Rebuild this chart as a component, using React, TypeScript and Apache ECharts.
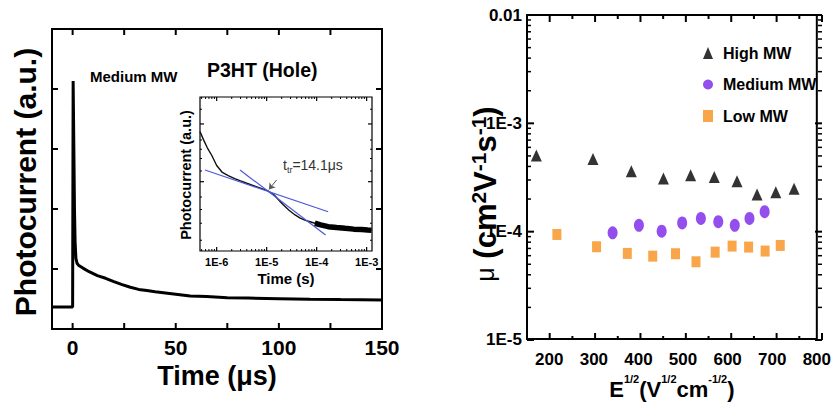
import React, { useEffect, useRef } from "react";
import * as echarts from "echarts";

const FONT = '"Liberation Sans", Arial, sans-serif';

// ---- Left panel: transient photocurrent (Medium MW) ----
const mainTime = [-10, 0, 0.25, 0.6, 0.9, 1.2, 1.6, 2.2, 3, 5, 8, 12, 16, 20, 24, 28, 32, 36, 40, 45, 50, 57, 65, 75, 85, 100, 115, 130, 150];
const mainSignal = [0.073, 0.073, 0.827, 0.6, 0.4, 0.29, 0.235, 0.218, 0.212, 0.203, 0.191, 0.178, 0.169, 0.158, 0.148, 0.139, 0.132, 0.128, 0.124, 0.12, 0.116, 0.11, 0.108, 0.104, 0.103, 0.101, 0.099, 0.098, 0.097];
const mainXRange = [-10, 150];
const mainYRange = [0, 1];
const mainXTicks = [0, 25, 50, 75, 100, 125, 150];
const mainXLabels = [0, 50, 100, 150];
const mainYTicks = [0.2, 0.4, 0.6, 0.8];

// ---- Inset: log-log transient ----
const insetTime = [4.64e-7, 5.5e-7, 6.5e-7, 8e-7, 1e-6, 1.3e-6, 1.7e-6, 2.3e-6, 3e-6, 4e-6, 6e-6, 8e-6, 1.06e-5, 1.4e-5, 2e-5, 2.8e-5, 3.7e-5, 4.6e-5, 5.8e-5, 7.4e-5, 9.2e-5, 1.2e-4, 1.7e-4, 2.5e-4, 3.7e-4, 5.5e-4, 8e-4, 1.05e-3, 1.25e-3];
const insetSignal = [0.775, 0.72, 0.67, 0.62, 0.555, 0.51, 0.49, 0.47, 0.455, 0.44, 0.42, 0.405, 0.39, 0.365, 0.31, 0.265, 0.234, 0.215, 0.2, 0.19, 0.18, 0.17, 0.158, 0.152, 0.147, 0.142, 0.139, 0.136, 0.135];
const fitShallowTime = [5.84e-7, 1.7e-4];
const fitShallowSignal = [0.526, 0.255];
const fitSteepTime = [2.93e-6, 1.51e-4];
const fitSteepSignal = [0.526, 0.104];
const insetXRange = [4.64e-7, 1.28e-3];
const insetYRange = [0, 1];
const insetXMajor = [1e-6, 1e-5, 1e-4, 1e-3];
const insetXMinor = [5e-7, 6e-7, 7e-7, 8e-7, 9e-7, 2e-6, 3e-6, 4e-6, 5e-6, 6e-6, 7e-6, 8e-6, 9e-6, 2e-5, 3e-5, 4e-5, 5e-5, 6e-5, 7e-5, 8e-5, 9e-5, 2e-4, 3e-4, 4e-4, 5e-4, 6e-4, 7e-4, 8e-4, 9e-4];
const insetYMajor = [0.45, 0.825];
const insetYMinor = [0.07, 0.18, 0.27, 0.35, 0.52, 0.6, 0.66, 0.72, 0.92];

// ---- Right panel: mobility vs E^1/2 ----
const fieldHigh = [171, 298, 384, 456, 517, 570, 621, 666, 708, 749];
const muHigh = [5.0e-4, 4.65e-4, 3.57e-4, 3.06e-4, 3.28e-4, 3.17e-4, 2.89e-4, 2.18e-4, 2.29e-4, 2.47e-4];
const fieldMedium = [342, 401, 452, 498, 540, 579, 616, 649, 683];
const muMedium = [9.64e-5, 1.13e-4, 9.98e-5, 1.19e-4, 1.31e-4, 1.22e-4, 1.13e-4, 1.31e-4, 1.51e-4];
const fieldLow = [217, 306, 375, 432, 483, 529, 572, 610, 647, 684, 718];
const muLow = [9.3e-5, 7.16e-5, 6.21e-5, 5.86e-5, 6.17e-5, 5.2e-5, 6.38e-5, 7.26e-5, 7.11e-5, 6.53e-5, 7.36e-5];
const rightXRange = [150, 800];
const rightYRange = [1e-5, 1e-2];
const rightXMajor = [200, 300, 400, 500, 600, 700, 800];
const rightXMinor = [250, 350, 450, 550, 650, 750];
const rightYMajor = [1e-5, 1e-4, 1e-3, 1e-2];
const rightYMinor = [2e-5, 3e-5, 4e-5, 5e-5, 6e-5, 7e-5, 8e-5, 9e-5, 2e-4, 3e-4, 4e-4, 5e-4, 6e-4, 7e-4, 8e-4, 9e-4, 2e-3, 3e-3, 4e-3, 5e-3, 6e-3, 7e-3, 8e-3, 9e-3];
const rightYLabels: Record<string, string> = { "-5": "1E-5", "-4": "1E-4", "-3": "1E-3", "-2": "0.01" };

const zip = (a: number[], b: number[]) => a.map((v, i) => [v, b[i]]);

// layout (pixels)
const GRID_MAIN = { left: 52, top: 29, width: 330, height: 300 };
const GRID_INSET = { left: 200, top: 97, width: 172, height: 154 };
const GRID_RIGHT = { left: 527, top: 15, width: 295, height: 325 };

type Box = { left: number; top: number; width: number; height: number };
const lin = (v: number, r: number[]) => (v - r[0]) / (r[1] - r[0]);
const lg = (v: number, r: number[]) => (Math.log10(v) - Math.log10(r[0])) / (Math.log10(r[1]) - Math.log10(r[0]));

function tickRects(box: Box, axis: "x" | "y", frac: (v: number) => number, vals: number[], len: number, w: number) {
  const out: any[] = [];
  vals.forEach((v) => {
    const f = frac(v);
    if (axis === "x") {
      const x = box.left + f * box.width;
      out.push({ type: "rect", z: 50, silent: true, shape: { x: x - w / 2, y: box.top + box.height - len, width: w, height: len }, style: { fill: "#000" } });
      out.push({ type: "rect", z: 50, silent: true, shape: { x: x - w / 2, y: box.top, width: w, height: len }, style: { fill: "#000" } });
    } else {
      const y = box.top + box.height - f * box.height;
      out.push({ type: "rect", z: 50, silent: true, shape: { x: box.left, y: y - w / 2, width: len, height: w }, style: { fill: "#000" } });
      out.push({ type: "rect", z: 50, silent: true, shape: { x: box.left + box.width - len, y: y - w / 2, width: len, height: w }, style: { fill: "#000" } });
    }
  });
  return out;
}

export default function App() {
  const ref = useRef<HTMLDivElement>(null);
  useEffect(() => {
    if (!ref.current) return;
    const chart = echarts.init(ref.current, undefined, { renderer: "svg" });

    const ticks = [
      ...tickRects(GRID_MAIN, "x", (v) => lin(v, mainXRange), mainXTicks, 6, 2),
      ...tickRects(GRID_MAIN, "y", (v) => lin(v, mainYRange), mainYTicks, 6, 2),
      ...tickRects(GRID_INSET, "x", (v) => lg(v, insetXRange), insetXMajor, 4, 1.2),
      ...tickRects(GRID_INSET, "x", (v) => lg(v, insetXRange), insetXMinor, 2, 1),
      ...tickRects(GRID_INSET, "y", (v) => lin(v, insetYRange), insetYMajor, 4, 1.2),
      ...tickRects(GRID_INSET, "y", (v) => lin(v, insetYRange), insetYMinor, 2, 1),
      ...tickRects(GRID_RIGHT, "x", (v) => lin(v, rightXRange), rightXMajor, 7, 2),
      ...tickRects(GRID_RIGHT, "x", (v) => lin(v, rightXRange), rightXMinor, 4, 2),
      ...tickRects(GRID_RIGHT, "y", (v) => lg(v, rightYRange), rightYMajor, 7, 2),
      ...tickRects(GRID_RIGHT, "y", (v) => lg(v, rightYRange), rightYMinor, 4, 1.5),
    ];

    const texts = [
      { type: "text", z: 50, left: 90, top: 69, style: { text: "Medium MW", font: `bold 15px ${FONT}`, fill: "#000" } },
      { type: "text", z: 50, left: 207, top: 60, style: { text: "P3HT (Hole)", font: `bold 19.5px ${FONT}`, fill: "#000" } },
      {
        type: "text", z: 50, left: 283, top: 158,
        style: {
          text: "{a|t}{b|tr}{a|=14.1μs}", fill: "#333",
          rich: {
            a: { fontSize: 14, fontFamily: FONT, fill: "#333", lineHeight: 18 },
            b: { fontSize: 9, fontFamily: FONT, fill: "#333", lineHeight: 9, verticalAlign: "bottom" },
          },
        },
      },
      {
        type: "text", z: 50, x: 25, y: 182, rotation: Math.PI / 2,
        style: { text: "Photocurrent (a.u.)", font: `bold 30px ${FONT}`, fill: "#000", align: "center", verticalAlign: "middle" },
      },
      {
        type: "text", z: 50, x: 186, y: 175, rotation: Math.PI / 2,
        style: { text: "Photocurrent (a.u.)", font: `bold 14.5px ${FONT}`, fill: "#000", align: "center", verticalAlign: "middle" },
      },
      {
        type: "text", z: 50, x: 485, y: 194, rotation: Math.PI / 2,
        style: {
          text: "{m|μ}{n| (cm}{s|2}{n|V}{s|-1}{n|s}{s|-1}{n|)}", fill: "#000", align: "center", verticalAlign: "middle",
          rich: {
            m: { fontSize: 25, fontFamily: FONT, fill: "#000", lineHeight: 34 },
            n: { fontSize: 31, fontWeight: "bold", fontFamily: FONT, fill: "#000", lineHeight: 34 },
            s: { fontSize: 21, fontWeight: "bold", fontFamily: FONT, fill: "#000", lineHeight: 20, verticalAlign: "top" },
          },
        },
      },
    ];

    const option: any = {
      animation: false,
      backgroundColor: "#fff",
      textStyle: { fontFamily: FONT },
      grid: [
        { ...GRID_MAIN, show: true, borderColor: "#000", borderWidth: 2, backgroundColor: "transparent" },
        { ...GRID_INSET, show: true, borderColor: "#000", borderWidth: 1.2, backgroundColor: "transparent" },
        { ...GRID_RIGHT, show: true, borderColor: "#000", borderWidth: 2, backgroundColor: "transparent" },
      ],
      xAxis: [
        {
          type: "value", gridIndex: 0, min: mainXRange[0], max: mainXRange[1],
          axisLine: { show: false }, axisTick: { show: false }, splitLine: { show: false },
          axisLabel: { customValues: mainXLabels, fontSize: 21, fontWeight: "bold", color: "#000", margin: 8, fontFamily: FONT },
          name: "Time (μs)", nameLocation: "middle", nameGap: 32,
          nameTextStyle: { fontSize: 27, fontWeight: "bold", color: "#000", fontFamily: FONT },
        },
        {
          type: "log", logBase: 10, gridIndex: 1, min: insetXRange[0], max: insetXRange[1],
          axisLine: { show: false }, axisTick: { show: false }, splitLine: { show: false },
          axisLabel: { customValues: insetXMajor, fontSize: 11, fontWeight: "bold", color: "#000", margin: 5, fontFamily: FONT,
            formatter: (v: number) => "1E" + Math.round(Math.log10(v)) },
          name: "Time (s)", nameLocation: "middle", nameGap: 20,
          nameTextStyle: { fontSize: 15, fontWeight: "bold", color: "#000", fontFamily: FONT },
        },
        {
          type: "value", gridIndex: 2, min: rightXRange[0], max: rightXRange[1],
          axisLine: { show: false }, axisTick: { show: false }, splitLine: { show: false },
          axisLabel: { customValues: rightXMajor, fontSize: 17, fontWeight: "bold", color: "#000", margin: 12, fontFamily: FONT },
          name: "{n|E}{s|1/2}{n|(V}{s|1/2}{n|cm}{s|-1/2}{n|)}", nameLocation: "middle", nameGap: 31,
          nameTextStyle: {
            color: "#000", fontFamily: FONT,
            rich: {
              n: { fontSize: 22, fontWeight: "bold", lineHeight: 32, fontFamily: FONT, color: "#000" },
              s: { fontSize: 11, fontWeight: "bold", lineHeight: 13, verticalAlign: "top", fontFamily: FONT, color: "#000" },
            },
          },
        },
      ],
      yAxis: [
        {
          type: "value", gridIndex: 0, min: mainYRange[0], max: mainYRange[1],
          axisLine: { show: false }, axisTick: { show: false }, splitLine: { show: false }, axisLabel: { show: false },
        },
        {
          type: "value", gridIndex: 1, min: insetYRange[0], max: insetYRange[1],
          axisLine: { show: false }, axisTick: { show: false }, splitLine: { show: false }, axisLabel: { show: false },
        },
        {
          type: "log", logBase: 10, gridIndex: 2, min: rightYRange[0], max: rightYRange[1],
          axisLine: { show: false }, axisTick: { show: false }, splitLine: { show: false },
          axisLabel: { customValues: rightYMajor, fontSize: 17, fontWeight: "bold", color: "#000", margin: 5, fontFamily: FONT,
            formatter: (v: number) => rightYLabels[String(Math.round(Math.log10(v)))] ?? "" },
        },
      ],
      legend: {
        left: 703, top: 45, orient: "vertical", itemGap: 15.5, itemWidth: 10, itemHeight: 12, padding: 0,
        textStyle: { fontSize: 16, fontWeight: "bold", color: "#000", fontFamily: FONT, padding: [0, 0, 0, 5] },
        data: [
          { name: "High MW", icon: "triangle" },
          { name: "Medium MW", icon: "circle" },
          { name: "Low MW", icon: "rect" },
        ],
      },
      graphic: { elements: [...ticks, ...texts] },
      series: [
        {
          type: "line", name: "trace", xAxisIndex: 0, yAxisIndex: 0, showSymbol: false, symbol: "none",
          data: zip(mainTime, mainSignal), lineStyle: { color: "#000", width: 3 }, z: 3,
        },
        {
          type: "line", name: "inset", xAxisIndex: 1, yAxisIndex: 1, showSymbol: false, symbol: "none",
          data: zip(insetTime, insetSignal), lineStyle: { color: "#111", width: 1.4 }, z: 7,
          markLine: {
            silent: true, symbol: ["none", "arrow"], symbolSize: 6,
            lineStyle: { color: "#555", width: 1, type: "solid" }, label: { show: false },
            data: [[{ coord: [1.58e-5, 0.461] }, { coord: [1.11e-5, 0.4] }]],
          },
        },
        {
          type: "line", name: "insetTail", xAxisIndex: 1, yAxisIndex: 1, showSymbol: false, symbol: "none",
          data: zip(insetTime, insetSignal).filter((p) => p[0] >= 9e-5), lineStyle: { color: "#000", width: 5.5 }, z: 7,
        },
        {
          type: "line", name: "fit1", xAxisIndex: 1, yAxisIndex: 1, showSymbol: false, symbol: "none",
          data: zip(fitShallowTime, fitShallowSignal), lineStyle: { color: "#4a5ad8", width: 1.2 }, z: 8,
        },
        {
          type: "line", name: "fit2", xAxisIndex: 1, yAxisIndex: 1, showSymbol: false, symbol: "none",
          data: zip(fitSteepTime, fitSteepSignal), lineStyle: { color: "#4a5ad8", width: 1.2 }, z: 8,
        },
        {
          type: "scatter", name: "High MW", xAxisIndex: 2, yAxisIndex: 2, symbol: "triangle", symbolSize: [11, 12],
          itemStyle: { color: "#000" }, data: zip(fieldHigh, muHigh),
        },
        {
          type: "scatter", name: "Medium MW", xAxisIndex: 2, yAxisIndex: 2, symbol: "circle", symbolSize: [10, 13],
          itemStyle: { color: "#7b22ea" }, data: zip(fieldMedium, muMedium),
        },
        {
          type: "scatter", name: "Low MW", xAxisIndex: 2, yAxisIndex: 2, symbol: "rect", symbolSize: [9, 11],
          itemStyle: { color: "#f7901e" }, data: zip(fieldLow, muLow),
        },
      ],
    };
    chart.setOption(option);
    return () => chart.dispose();
  }, []);
  return <div ref={ref} style={{ position: "fixed", left: 0, top: 0, width: 834, height: 405 }} />;
}
